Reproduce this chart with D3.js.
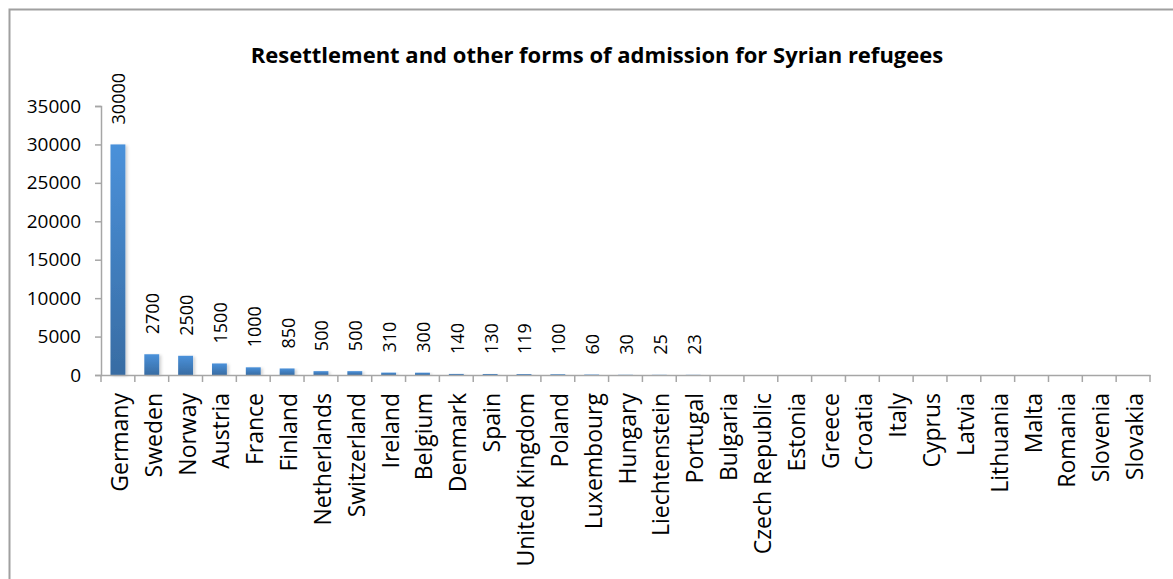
<!DOCTYPE html>
<html><head><meta charset="utf-8">
<script src="https://cdn.jsdelivr.net/npm/d3@7"></script>
<style>body{margin:0;background:#fff}svg{display:block}</style>
</head><body>
<svg id="c" width="1173" height="579"></svg>
<script>
const title = "Resettlement and other forms of admission for Syrian refugees";
const countries = ["Germany","Sweden","Norway","Austria","France","Finland","Netherlands","Switzerland","Ireland","Belgium","Denmark","Spain","United Kingdom","Poland","Luxembourg","Hungary","Liechtenstein","Portugal","Bulgaria","Czech Republic","Estonia","Greece","Croatia","Italy","Cyprus","Latvia","Lithuania","Malta","Romania","Slovenia","Slovakia"];
const values = [30000,2700,2500,1500,1000,850,500,500,310,300,140,130,119,100,60,30,25,23,null,null,null,null,null,null,null,null,null,null,null,null,null];
const yTicks = [0,5000,10000,15000,20000,25000,30000,35000];

const font = "'Open Sans', sans-serif";
const svg = d3.select("#c");
svg.append("rect").attr("x",9.5).attr("y",9.5).attr("width",1200).attr("height",600)
  .attr("fill","#fff").attr("stroke","#a0a0a0").attr("stroke-width",2);

const m = {left:101, right:1150, top:106, bottom:375};
const x = d3.scaleBand().domain(countries).range([m.left,m.right]).paddingInner(0.56).paddingOuter(0.28);
const xb = d3.scaleBand().domain(countries).range([m.left,m.right]);
const y = d3.scaleLinear().domain([0,35000]).range([m.bottom,m.top]);

const defs = svg.append("defs");
const g = defs.append("linearGradient").attr("id","bg").attr("x1",0).attr("y1",0).attr("x2",0).attr("y2",1);
g.append("stop").attr("offset","0%").attr("stop-color","#4a91da");
g.append("stop").attr("offset","100%").attr("stop-color","#386ca3");
const f = defs.append("filter").attr("id","sh").attr("x","-50%").attr("y","-5%").attr("width","200%").attr("height","110%");
f.append("feDropShadow").attr("dx",2).attr("dy",1).attr("stdDeviation",1.5).attr("flood-color","#000").attr("flood-opacity",0.18);

svg.append("text").attr("x",597).attr("y",63).attr("text-anchor","middle")
  .attr("font-family",font).attr("font-weight","bold").attr("font-size",22).attr("fill","#000").text(title);

// y axis
const ya = svg.append("g").attr("transform",`translate(${m.left},0)`)
  .call(d3.axisLeft(y).tickValues(yTicks).tickSize(6).tickPadding(14).tickFormat(d3.format("d")));
ya.select(".domain").attr("stroke","#a6a6a6").attr("stroke-width",1.5);
ya.selectAll(".tick line").attr("stroke","#a6a6a6").attr("stroke-width",1.5);
ya.selectAll("text").attr("font-family",font).attr("font-size",19).attr("fill","#000");

// bars
const data = countries.map((c,i)=>({c,v:values[i]}));
svg.append("g").selectAll("rect").data(data.filter(d=>d.v!=null)).join("rect")
  .attr("x",d=>x(d.c)).attr("width",x.bandwidth())
  .attr("y",d=>y(d.v)).attr("height",d=>Math.max(0.5,y(0)-y(d.v)))
  .attr("fill","url(#bg)").attr("filter","url(#sh)");

// value labels
svg.append("g").selectAll("text").data(data.filter(d=>d.v!=null)).join("text")
  .attr("transform",d=>`translate(${xb(d.c)+xb.bandwidth()/2+7.5},${y(d.v)-20}) rotate(-90)`)
  .attr("font-family",font).attr("font-size",18).attr("fill","#000").text(d=>d.v);

// x axis
const xa = svg.append("g").attr("transform",`translate(0,${m.bottom})`)
  .call(d3.axisBottom(xb).tickSize(0).tickPadding(0));
xa.select(".domain").attr("stroke","#a6a6a6").attr("stroke-width",1.5);
xa.selectAll(".tick text").attr("font-family",font).attr("font-size",23).attr("fill","#000")
  .attr("text-anchor","end").attr("dy",null)
  .attr("transform",`translate(10,18) rotate(-90)`).attr("x",0).attr("y",0);
// boundary ticks
const bounds = countries.map(c=>xb(c)).concat([m.right]);
svg.append("g").selectAll("line").data(bounds).join("line")
  .attr("x1",d=>d).attr("x2",d=>d).attr("y1",m.bottom).attr("y2",m.bottom+7)
  .attr("stroke","#a6a6a6").attr("stroke-width",1.5);
</script>
</body></html>
